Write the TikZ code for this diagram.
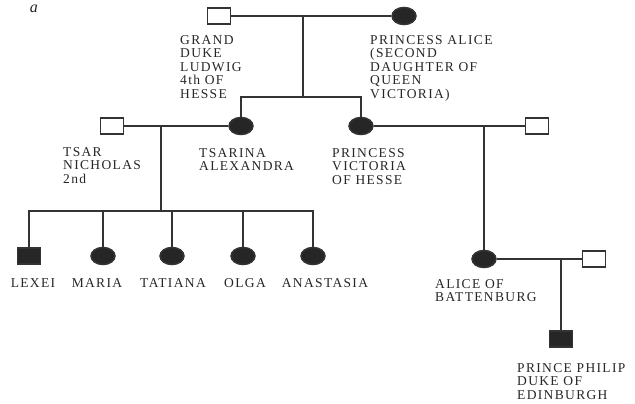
\documentclass[tikz,border=0pt]{standalone}
\usepackage{fontspec}
\setmainfont{Liberation Serif}
\newfontfamily\pedfont[LetterSpace=10]{Liberation Serif}
\usetikzlibrary{shapes.geometric}
\definecolor{inkgray}{HTML}{262626}
\definecolor{linegray}{HTML}{333333}

\begin{document}
\begin{tikzpicture}[x=1pt,y=-1pt,
  male/.style={rectangle,draw=linegray,line width=1.5pt,fill=white,minimum width=23pt,
    minimum height=16pt,inner sep=0pt},
  female/.style={ellipse,draw=linegray,line width=1.5pt,fill=white,minimum width=24pt,
    minimum height=17pt,inner sep=0pt},
  aff/.style={fill=inkgray},
  lbl/.style={anchor=north west,align=left,inner sep=0pt,text=inkgray,
    font=\pedfont\fontsize{13.5}{13.5}\selectfont},
  kid/.style={anchor=north,inner sep=0pt,text=inkgray,
    font=\pedfont\fontsize{13.5}{13.5}\selectfont},
  ln/.style={draw=linegray,line width=1.5pt}]
\useasboundingbox (0,0) rectangle (635,404);
\node[text=inkgray,font=\fontsize{16}{16}\selectfont\itshape] (tag) at (34,9) {a};
% grandparents
\node[male] (gd) at (219,16) {};
\node[female,aff] (pa) at (404,16) {};
\node[lbl] (gdl) at (180,35) {GRAND\\DUKE\\LUDWIG\\4th OF\\HESSE};
\node[lbl] (pal) at (370,35) {PRINCESS ALICE\\(SECOND\\DAUGHTER OF\\QUEEN\\VICTORIA)};
% second generation
\node[male] (tn) at (112,126) {};
\node[female,aff] (ts) at (241,126) {};
\node[female,aff] (pv) at (361,126) {};
\node[male] (lb) at (537,126) {};
\node[lbl] (tnl) at (63,147) {TSAR\\NICHOLAS\\2nd};
\node[lbl] (tsl) at (199,148) {TSARINA\\ALEXANDRA};
\node[lbl] (pvl) at (332,148) {PRINCESS\\VICTORIA\\OF HESSE};
% children of the tsar
\node[male,aff] (lx) at (29,256) {};
\node[female,aff] (ma) at (103,256) {};
\node[female,aff] (ta) at (172,256) {};
\node[female,aff] (ol) at (243,256) {};
\node[female,aff] (an) at (313,256) {};
\node[kid] at (33,278) {LEXEI};
\node[kid] at (97,278) {MARIA};
\node[kid] at (173,278) {TATIANA};
\node[kid] at (245,278) {OLGA};
\node[kid] at (325,278) {ANASTASIA};
% battenburg line
\node[female,aff] (ab) at (484,259) {};
\node[male] (aa) at (594,259) {};
\node[male,aff] (pp) at (561,339) {};
\node[lbl] (abl) at (435,279) {ALICE OF\\BATTENBURG};
\node[lbl] (ppl) at (517,363) {PRINCE PHILIP\\DUKE OF\\EDINBURGH};
% connectors
\coordinate (m1) at (303,16); \coordinate (b1) at (303,97);
\coordinate (m2) at (161,126); \coordinate (b2) at (161,211);
\coordinate (m3) at (484,126); \coordinate (m4) at (561,259);
\draw[ln] (gd)--(pa); \draw[ln] (m1)--(b1);
\draw[ln] (ts.north) |- (b1) -| (pv.north);
\draw[ln] (tn)--(ts); \draw[ln] (m2)--(b2);
\draw[ln] (lx.north) |- (b2) -| (an.north);
\foreach \c in {ma,ta,ol} \draw[ln] (\c.north)--(\c.north |- b2);
\draw[ln] (pv)--(lb); \draw[ln] (m3)--(ab.north);
\draw[ln] (ab)--(aa); \draw[ln] (m4)--(pp.north);
\end{tikzpicture}
\end{document}
